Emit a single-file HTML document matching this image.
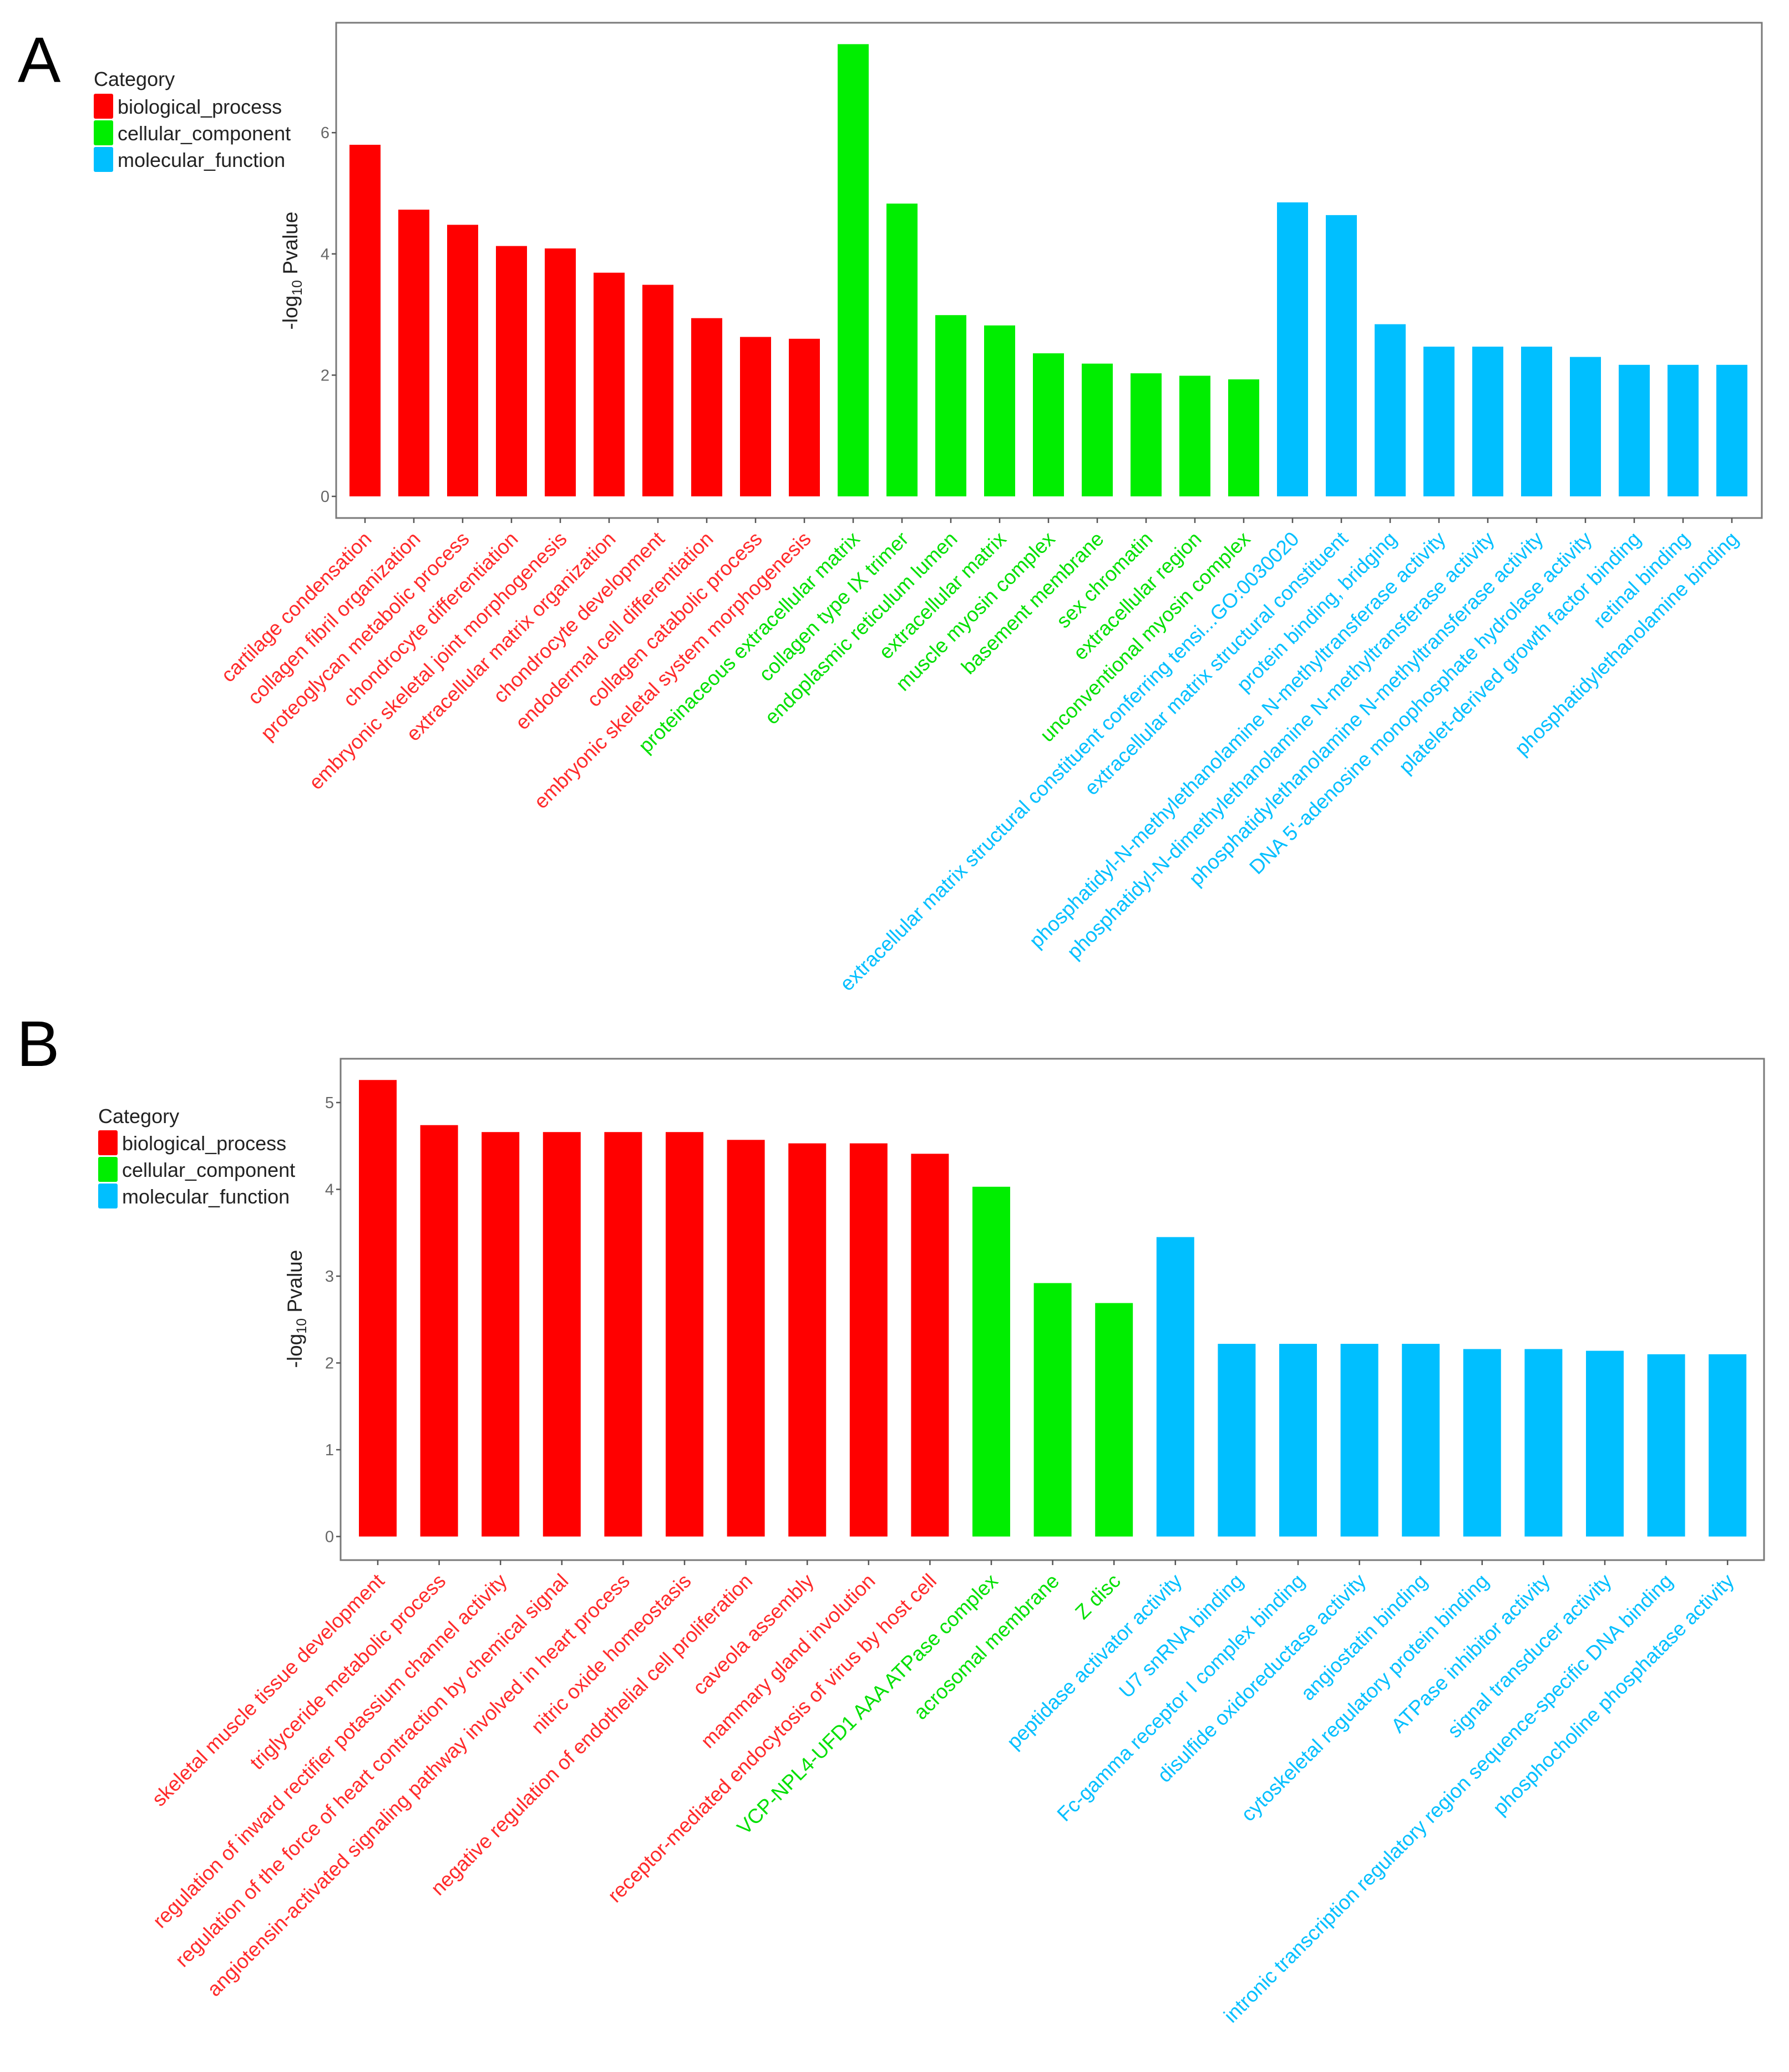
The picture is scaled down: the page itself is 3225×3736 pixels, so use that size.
<!DOCTYPE html>
<html><head><meta charset="utf-8"><style>
html,body{margin:0;padding:0;background:#fff;}
svg{display:block;font-family:"Liberation Sans",Arial,sans-serif;}
</style></head><body>
<svg id="fig" width="3225" height="3736" viewBox="0 0 3225 3736" xmlns="http://www.w3.org/2000/svg">
<rect x="0" y="0" width="3225" height="3736" fill="#fff"/>
<text x="32" y="148" font-size="116" fill="#000">A</text>
<text x="30" y="1922" font-size="116" fill="#000">B</text>
<g id="chartA"></g>
<g id="chartB"></g>
</svg>
<script>
const COLORS = {BP:'#ff0000', CC:'#00ee00', MF:'#00bfff'};
const LABELCOLORS = {BP:'#ff2a2a', CC:'#00e000', MF:'#00bfff'};

// ---- Panel A data ----
const catsA = ["cartilage condensation","collagen fibril organization","proteoglycan metabolic process","chondrocyte differentiation","embryonic skeletal joint morphogenesis","extracellular matrix organization","chondrocyte development","endodermal cell differentiation","collagen catabolic process","embryonic skeletal system morphogenesis","proteinaceous extracellular matrix","collagen type IX trimer","endoplasmic reticulum lumen","extracellular matrix","muscle myosin complex","basement membrane","sex chromatin","extracellular region","unconventional myosin complex","extracellular matrix structural constituent conferring tensi...GO:0030020","extracellular matrix structural constituent","protein binding, bridging","phosphatidyl-N-methylethanolamine N-methyltransferase activity","phosphatidyl-N-dimethylethanolamine N-methyltransferase activity","phosphatidylethanolamine N-methyltransferase activity","DNA 5'-adenosine monophosphate hydrolase activity","platelet-derived growth factor binding","retinal binding","phosphatidylethanolamine binding"];
const groupsA = ["BP","BP","BP","BP","BP","BP","BP","BP","BP","BP","CC","CC","CC","CC","CC","CC","CC","CC","CC","MF","MF","MF","MF","MF","MF","MF","MF","MF","MF"];
const valuesA = [5.80,4.73,4.48,4.13,4.09,3.69,3.49,2.94,2.63,2.60,7.46,4.83,2.99,2.82,2.36,2.19,2.03,1.99,1.93,4.85,4.64,2.84,2.47,2.47,2.47,2.30,2.17,2.17,2.17];
const ticksA = [0,2,4,6];

// ---- Panel B data ----
const catsB = ["skeletal muscle tissue development","triglyceride metabolic process","regulation of inward rectifier potassium channel activity","regulation of the force of heart contraction by chemical signal","angiotensin-activated signaling pathway involved in heart process","nitric oxide homeostasis","negative regulation of endothelial cell proliferation","caveola assembly","mammary gland involution","receptor-mediated endocytosis of virus by host cell","VCP-NPL4-UFD1 AAA ATPase complex","acrosomal membrane","Z disc","peptidase activator activity","U7 snRNA binding","Fc-gamma receptor I complex binding","disulfide oxidoreductase activity","angiostatin binding","cytoskeletal regulatory protein binding","ATPase inhibitor activity","signal transducer activity","intronic transcription regulatory region sequence-specific DNA binding","phosphocholine phosphatase activity"];
const groupsB = ["BP","BP","BP","BP","BP","BP","BP","BP","BP","BP","CC","CC","CC","MF","MF","MF","MF","MF","MF","MF","MF","MF","MF"];
const valuesB = [5.26,4.74,4.66,4.66,4.66,4.66,4.57,4.53,4.53,4.41,4.03,2.92,2.69,3.45,2.22,2.22,2.22,2.22,2.16,2.16,2.14,2.10,2.10];
const ticksB = [0,1,2,3,4,5];

const legendLabels = ["biological_process","cellular_component","molecular_function"];
const legendKeys = ["BP","CC","MF"];

const NS = 'http://www.w3.org/2000/svg';
function mk(tag, attrs, parent){
  const e = document.createElementNS(NS, tag);
  for (const k in attrs) e.setAttribute(k, attrs[k]);
  parent.appendChild(e);
  return e;
}

function drawChart(g, cfg, cats, groups, values, ticks){
  const {left,right,top,bottom,base,perUnit,firstX,step,barW,tickX,titleX,titleY,leg} = cfg;
  const yScale = v => base - v*perUnit;
  const xScale = i => firstX + i*step;
  const lt = mk('text',{x:leg.x, y:leg.titleY, 'font-size':36, fill:'#222'}, g);
  lt.textContent = 'Category';
  
  
  legendKeys.forEach((k,i)=>{
    const y0 = leg.y0 + i*leg.dy;
    const r = mk('rect',{x:leg.x, y:y0, width:35, height:leg.dy-3, rx:3, fill:COLORS[k]}, g);
    
    
    const t = mk('text',{x:leg.x+43, y:y0+leg.dy/2+12, 'font-size':36, fill:'#222'}, g);
    t.textContent = legendLabels[i];
    
    
  });
  values.forEach((v,i)=>{
    const cx = xScale(i);
    const r = mk('rect',{x:cx-barW/2, y:yScale(v), width:barW, height:yScale(0)-yScale(v), fill:COLORS[groups[i]]}, g);
    
    
  });
  const b = mk('rect',{x:left, y:top, width:right-left, height:bottom-top, fill:'none', stroke:'#7a7a7a', 'stroke-width':3}, g);
  
  
  ticks.forEach(t=>{
    const y = yScale(t);
    mk('line',{x1:left-8, x2:left, y1:y, y2:y, stroke:'#555', 'stroke-width':2.5}, g);
    const tl = mk('text',{x:tickX, y:y+10, 'font-size':29, fill:'#666', 'text-anchor':'end'}, g);
    tl.textContent = String(t);
    
    
  });
  const yt = mk('text',{transform:`translate(${titleX},${titleY}) rotate(-90)`, 'font-size':37, fill:'#222', 'text-anchor':'middle'}, g);
  
  
  const s1 = mk('tspan',{}, yt); s1.textContent = '-log';
  const s2 = mk('tspan',{'font-size':25, dy:8}, yt); s2.textContent = '10';
  const s3 = mk('tspan',{dy:-8}, yt); s3.textContent = ' Pvalue';
  cats.forEach((c,i)=>{
    const x = xScale(i);
    mk('line',{x1:x, x2:x, y1:bottom, y2:bottom+9, stroke:'#555', 'stroke-width':2.5}, g);
    const ax = x+14, ay = bottom+40;
    const t = mk('text',{transform:`translate(${ax},${ay}) rotate(-45)`, 'font-size':36.5, fill:LABELCOLORS[groups[i]], 'text-anchor':'end'}, g);
    t.textContent = c;
    
    
  });
}

drawChart(document.getElementById('chartA'), {
  left:606, right:3176, top:41, bottom:934, base:895, perUnit:109.3,
  firstX:658, step:88.0, barW:56, tickX:594, titleX:536, titleY:488,
  leg:{x:169, titleY:155, y0:169, dy:48}
}, catsA, groupsA, valuesA, ticksA);

drawChart(document.getElementById('chartB'), {
  left:614, right:3180, top:1909, bottom:2813, base:2770.5, perUnit:156.5,
  firstX:681, step:110.6, barW:68, tickX:602, titleX:544, titleY:2360,
  leg:{x:177, titleY:2025, y0:2038, dy:48}
}, catsB, groupsB, valuesB, ticksB);
</script>
</body></html>
